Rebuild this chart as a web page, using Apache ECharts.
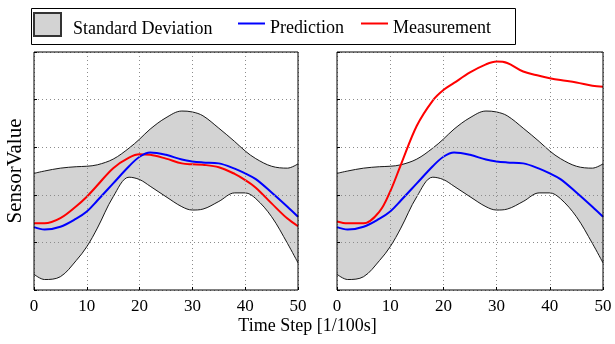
<!DOCTYPE html>
<html>
<head>
<meta charset="utf-8">
<script src="https://cdn.jsdelivr.net/npm/echarts@6/dist/echarts.min.js"></script>
<style>
  html, body { margin: 0; padding: 0; background: #fff; }
  #chart { width: 615px; height: 344px; }
</style>
</head>
<body>
<div id="chart"></div>
<script>
// Time steps at which the curves are sampled
const timeSteps = [0, 2, 5, 8, 10, 12, 15, 18, 20, 22, 25, 28, 30, 32, 35, 38, 40, 42, 45, 48, 50];

// Standard deviation band around the prediction
const bandUpper = [2.45, 2.50, 2.56, 2.59, 2.60, 2.63, 2.75, 2.98, 3.17, 3.38, 3.62, 3.76, 3.74, 3.66, 3.40, 3.12, 2.92, 2.76, 2.60, 2.56, 2.65];
const bandLower = [0.33, 0.22, 0.28, 0.62, 0.91, 1.30, 1.96, 2.37, 2.32, 2.18, 1.96, 1.75, 1.68, 1.70, 1.86, 2.04, 2.04, 1.92, 1.54, 0.98, 0.57];

// Predicted sensor value
const prediction = [1.32, 1.27, 1.33, 1.50, 1.65, 1.88, 2.24, 2.60, 2.80, 2.89, 2.84, 2.74, 2.70, 2.68, 2.66, 2.55, 2.45, 2.33, 2.05, 1.75, 1.54];

// Measured sensor values: normal run (left) and anomalous run (right)
const measurementLeft = [1.40, 1.40, 1.51, 1.76, 1.96, 2.20, 2.56, 2.78, 2.85, 2.84, 2.76, 2.66, 2.64, 2.63, 2.58, 2.44, 2.31, 2.15, 1.82, 1.50, 1.34];
const measurementRight = [1.44, 1.40, 1.40, 1.65, 2.07, 2.63, 3.45, 3.98, 4.20, 4.35, 4.57, 4.74, 4.80, 4.77, 4.59, 4.50, 4.45, 4.41, 4.36, 4.29, 4.27];

// Axis ticks
const xTicks = [0, 10, 20, 30, 40, 50];

const FONT = '"Liberation Serif", "DejaVu Serif", serif';
const pairs = arr => timeSteps.map((t, i) => [t, arr[i]]);

function axesFor(idx) {
  const grid = { show: true, lineStyle: { color: '#8c8c8c', type: [1, 3], width: 1 } };
  const tick = { show: true, inside: true, length: 3, lineStyle: { color: '#000' } };
  return {
    x: {
      type: 'value', gridIndex: idx, min: 0, max: 50, interval: 10, z: 10,
      axisLine: { show: false }, axisTick: tick,
      axisLabel: { color: '#000', fontFamily: FONT, fontSize: 17, margin: 8,
        formatter: v => xTicks.includes(v) ? String(v) : '' },
      splitLine: grid
    },
    y: {
      type: 'value', gridIndex: idx, min: 0, max: 5, interval: 1, z: 10,
      axisLine: { show: false }, axisTick: tick,
      axisLabel: { show: false },
      splitLine: grid
    }
  };
}

function panelSeries(idx, measured) {
  const common = { xAxisIndex: idx, yAxisIndex: idx, type: 'line', smooth: 0.35, symbol: 'none', silent: true };
  return [
    // band: grey fill under the upper bound, cleared again under the lower bound
    Object.assign({}, common, {
      name: 'Standard Deviation', data: pairs(bandUpper),
      lineStyle: { color: '#000', width: 0.9 },
      areaStyle: { color: '#d3d3d3', opacity: 1, origin: 'start' },
      itemStyle: { color: '#d3d3d3', borderColor: '#333', borderWidth: 1 }, z: 1
    }),
    Object.assign({}, common, {
      name: 'lower' + idx, data: pairs(bandLower),
      lineStyle: { color: '#000', width: 0.9 },
      areaStyle: { color: '#fff', opacity: 1, origin: 'start' }, z: 1.5
    }),
    Object.assign({}, common, {
      name: 'Prediction', data: pairs(prediction),
      lineStyle: { color: '#0000ff', width: 2 }, itemStyle: { color: '#0000ff' }, z: 4
    }),
    Object.assign({}, common, {
      name: 'Measurement', data: pairs(measured),
      lineStyle: { color: '#ff0000', width: 2 }, itemStyle: { color: '#ff0000' }, z: 3
    })
  ];
}

const a0 = axesFor(0), a1 = axesFor(1);

// legend labels sit slightly below the icon centre
const legendText = pad => ({
  formatter: '{t|{name}}',
  textStyle: {
    rich: { t: { color: '#000', fontFamily: FONT, fontSize: 18, padding: [9, 0, 0, pad] } }
  }
});

const option = {
  animation: false,
  backgroundColor: '#fff',
  grid: [
    { left: 34, top: 52, width: 264, height: 238, show: true, borderColor: '#000', borderWidth: 1, backgroundColor: 'transparent', z: 11 },
    { left: 337, top: 52, width: 266, height: 238, show: true, borderColor: '#000', borderWidth: 1, backgroundColor: 'transparent', z: 11 }
  ],
  xAxis: [a0.x, a1.x],
  yAxis: [a0.y, a1.y],
  legend: [
    Object.assign({
      left: 33, top: 12, padding: 0, itemWidth: 27, itemHeight: 23, icon: 'rect',
      data: ['Standard Deviation'], selectedMode: false
    }, legendText(7)),
    Object.assign({
      left: 238, top: 19, padding: 0, itemWidth: 27, itemHeight: 2, itemGap: 17, icon: 'rect',
      data: ['Prediction', 'Measurement'], selectedMode: false
    }, legendText(0))
  ],
  graphic: [
    { type: 'rect', left: 29, top: 6, shape: { width: 484, height: 36 },
      style: { fill: 'none', stroke: '#000', lineWidth: 1 }, z: -1 },
    { type: 'text', left: 'center', top: 317,
      style: { text: 'Time Step [1/100s]', font: '18px ' + FONT, fill: '#000' } },
    { type: 'text', x: 5, y: 171, rotation: Math.PI / 2,
      style: { text: 'SensorValue', font: '21px ' + FONT, fill: '#000', textAlign: 'center', textVerticalAlign: 'top' } }
  ],
  series: [].concat(panelSeries(0, measurementLeft), panelSeries(1, measurementRight))
};

const chart = echarts.init(document.getElementById('chart'), null, { renderer: 'canvas' });
chart.setOption(option);
</script>
</body>
</html>
